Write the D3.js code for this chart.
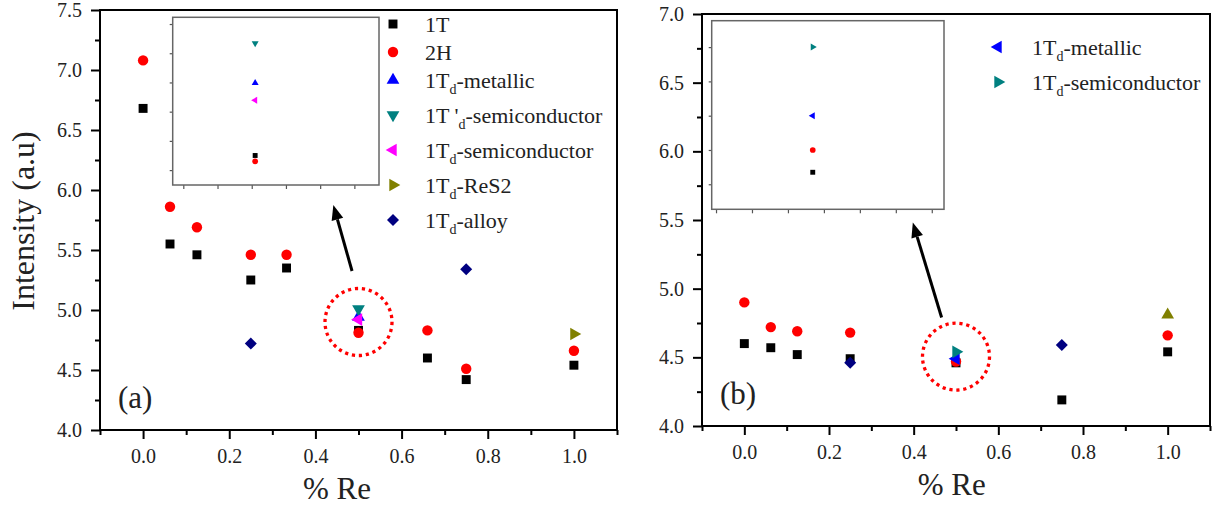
<!DOCTYPE html>
<html>
<head>
<meta charset="utf-8">
<script src="https://cdn.jsdelivr.net/npm/d3@7"></script>
<style>
body { margin: 0; background: #fff; }
svg { display: block; font-family: "Liberation Serif", "Times New Roman", serif; }
</style>
</head>
<body>
<svg id="chart" width="1212" height="513"></svg>
<script>
// ---- data ----
const xTicks = [0, 0.2, 0.4, 0.6, 0.8, 1.0];
const xMinor = [-0.1, 0.1, 0.3, 0.5, 0.7, 0.9, 1.1];
const aYTicks = [4.0, 4.5, 5.0, 5.5, 6.0, 6.5, 7.0, 7.5];
const aYMinor = [4.25, 4.75, 5.25, 5.75, 6.25, 6.75, 7.25];
const bYTicks = [4.0, 4.5, 5.0, 5.5, 6.0, 6.5, 7.0];
const bYMinor = [4.25, 4.75, 5.25, 5.75, 6.25, 6.75];

// panel (a)
const aRe = [0, 0.0625, 0.125, 0.25, 0.333, 0.5, 0.66, 0.75, 1.0];
const a1T = [6.68, 5.55, 5.46, 5.25, 5.35, 4.83, 4.60, 4.42, 4.54];
const a2H = [7.08, 5.86, 5.69, 5.46, 5.46, 4.81, 4.83, 4.51, 4.66];
const aMetRe = [0.5], aMet = [4.94];
const aSemiPRe = [0.5], aSemiP = [5.01];
const aSemiRe = [0.5], aSemi = [4.92];
const aReS2Re = [1.0], aReS2 = [4.80];
const aAlloyRe = [0.25, 0.75], aAlloy = [4.72, 5.34];

// panel (b)
const bRe1T = [0, 0.0625, 0.125, 0.25, 0.5, 0.75, 1.0];
const b1T = [4.60, 4.57, 4.52, 4.49, 4.46, 4.19, 4.54];
const bRe2H = [0, 0.0625, 0.125, 0.25, 0.5, 1.0];
const b2H = [4.90, 4.72, 4.69, 4.68, 4.47, 4.66];
const bAlloyRe = [0.25, 0.75], bAlloy = [4.46, 4.59];
const bReS2Re = [1.0], bReS2 = [4.81];
const bMetRe = [0.5], bMet = [4.49];
const bSemiRe = [0.5], bSemi = [4.54];

// insets (no labels, own units)
const insetAKeys = ['1T', '2H', 'met', 'semiP', 'semi'];
const insetAVals = [0.50, 0.30, 2.98, 4.34, 2.39];
const insetBKeys = ['1T', '2H', 'metL', 'semiR'];
const insetBVals = [0.35, 1.0, 2.0, 4.0];

// legends
const legendA = [
  {key: '1T', pre: '1T', sub: '', post: ''},
  {key: '2H', pre: '2H', sub: '', post: ''},
  {key: 'met', pre: '1T', sub: 'd', post: '-metallic'},
  {key: 'semiP', pre: "1T '", sub: 'd', post: '-semiconductor'},
  {key: 'semi', pre: '1T', sub: 'd', post: '-semiconductor'},
  {key: 'res2', pre: '1T', sub: 'd', post: '-ReS2'},
  {key: 'alloy', pre: '1T', sub: 'd', post: '-alloy'}
];
const legendB = [
  {key: 'metL', pre: '1T', sub: 'd', post: '-metallic'},
  {key: 'semiR', pre: '1T', sub: 'd', post: '-semiconductor'}
];

// ---- styles ----
const styles = {
  '1T':    {type: d3.symbolSquare,   rot: 0,   color: '#000000', size: 80},
  '2H':    {type: d3.symbolCircle,   rot: 0,   color: '#ff0000', size: 85},
  'met':   {type: d3.symbolTriangle, rot: 0,   color: '#0000ff', size: 70},
  'semiP': {type: d3.symbolTriangle, rot: 180, color: '#008080', size: 70},
  'semi':  {type: d3.symbolTriangle, rot: -90, color: '#ff00ff', size: 70},
  'res2':  {type: d3.symbolTriangle, rot: 90,  color: '#808000', size: 70},
  'res2u': {type: d3.symbolTriangle, rot: 0,   color: '#808000', size: 70},
  'alloy': {type: d3.symbolSquare,   rot: 45,  color: '#000080', size: 72},
  'metL':  {type: d3.symbolTriangle, rot: -90, color: '#0000ff', size: 70},
  'semiR': {type: d3.symbolTriangle, rot: 90,  color: '#008080', size: 70}
};

const svg = d3.select('#chart');
const fmt = d3.format('.1f');

function marker (g, key, cx, cy, scale) {
  const s = styles[key];
  g.append('path')
    .attr('d', d3.symbol().type(s.type).size(s.size * (scale || 1))())
    .attr('transform', 'translate(' + cx + ',' + cy + ') rotate(' + s.rot + ')')
    .attr('fill', s.color);
}

function drawPanel (cfg) {
  const g = svg.append('g');
  const x = d3.scaleLinear().domain([-0.1, 1.1]).range([cfg.left, cfg.right]);
  const y = d3.scaleLinear().domain([cfg.yTicks[0], cfg.yTicks[cfg.yTicks.length - 1]]).range([cfg.bottom, cfg.top]);

  // minor ticks
  g.append('g').attr('transform', 'translate(0,' + cfg.bottom + ')')
    .call(d3.axisBottom(x).tickValues(xMinor).tickSize(5).tickFormat(''))
    .call(a => a.select('.domain').remove());
  g.append('g').attr('transform', 'translate(' + cfg.left + ',0)')
    .call(d3.axisLeft(y).tickValues(cfg.yMinor).tickSize(5).tickFormat(''))
    .call(a => a.select('.domain').remove());

  // major ticks
  g.append('g').attr('transform', 'translate(0,' + cfg.bottom + ')')
    .call(d3.axisBottom(x).tickValues(xTicks).tickSize(9).tickPadding(10).tickFormat(fmt))
    .call(a => a.select('.domain').remove());
  g.append('g').attr('transform', 'translate(' + cfg.left + ',0)')
    .call(d3.axisLeft(y).tickValues(cfg.yTicks).tickSize(9).tickPadding(9).tickFormat(fmt))
    .call(a => a.select('.domain').remove());

  g.selectAll('.tick line').attr('stroke', '#000').attr('stroke-width', 2);
  g.selectAll('.tick text').attr('font-size', 20).attr('fill', '#222')
    .attr('font-family', '"Liberation Serif", serif');

  // frame
  g.append('rect')
    .attr('x', cfg.left).attr('y', cfg.top)
    .attr('width', cfg.right - cfg.left).attr('height', cfg.bottom - cfg.top)
    .attr('fill', 'none').attr('stroke', '#000').attr('stroke-width', 2);

  // x title
  g.append('text')
    .attr('x', x(cfg.xTitleAt)).attr('y', cfg.bottom + 69)
    .attr('text-anchor', 'middle').attr('font-size', 31).attr('fill', '#222')
    .text('% Re');

  // panel label
  g.append('text')
    .attr('x', cfg.left + 18).attr('y', cfg.bottom - 22)
    .attr('font-size', 31).attr('fill', '#222')
    .text(cfg.label);

  return {g, x, y};
}

function series (p, key, xs, ys) {
  xs.forEach((v, i) => marker(p.g, key, p.x(v), p.y(ys[i])));
}

function dottedCircle (p, cx, cy) {
  p.g.append('circle')
    .attr('cx', p.x(cx)).attr('cy', p.y(cy)).attr('r', 33.5)
    .attr('fill', 'none').attr('stroke', '#ff0000')
    .attr('stroke-width', 3.3).attr('stroke-dasharray', '3.2 3.8');
}

function arrow (p, x1, y1, x2, y2) {
  const ax1 = p.x(x1), ay1 = p.y(y1), ax2 = p.x(x2), ay2 = p.y(y2);
  const ang = Math.atan2(ay2 - ay1, ax2 - ax1);
  const len = 15, half = 6;
  const bx = ax2 - len * Math.cos(ang), by = ay2 - len * Math.sin(ang);
  p.g.append('line')
    .attr('x1', ax1).attr('y1', ay1).attr('x2', bx).attr('y2', by)
    .attr('stroke', '#000').attr('stroke-width', 3);
  const nx = -Math.sin(ang), ny = Math.cos(ang);
  p.g.append('path')
    .attr('d', 'M' + ax2 + ',' + ay2 + 'L' + (bx + nx * half) + ',' + (by + ny * half) +
      'L' + (bx - nx * half) + ',' + (by - ny * half) + 'Z')
    .attr('fill', '#000');
}

function drawInset (cfg, keys, vals) {
  const g = svg.append('g');
  const x = d3.scaleLinear().domain(cfg.xDomain).range([cfg.left, cfg.right]);
  const y = d3.scaleLinear().domain(cfg.yDomain).range([cfg.bottom, cfg.top]);
  g.append('g').attr('transform', 'translate(0,' + cfg.bottom + ')')
    .call(d3.axisBottom(x).tickValues(d3.range(cfg.xN)).tickSize(4).tickFormat(''))
    .call(a => a.select('.domain').remove());
  g.append('g').attr('transform', 'translate(' + cfg.left + ',0)')
    .call(d3.axisLeft(y).tickValues(d3.range(cfg.yN)).tickSize(3).tickFormat(''))
    .call(a => a.select('.domain').remove());
  g.selectAll('.tick line').attr('stroke', '#555').attr('stroke-width', 1.2);
  g.append('rect')
    .attr('x', cfg.left).attr('y', cfg.top)
    .attr('width', cfg.right - cfg.left).attr('height', cfg.bottom - cfg.top)
    .attr('fill', '#fff').attr('stroke', '#666').attr('stroke-width', 1.5);
  keys.forEach((k, i) => marker(g, k, x(cfg.at), y(vals[i]), 0.3));
}

function legend (items, mx, tx, y0) {
  const g = svg.append('g');
  let yy = y0;
  items.forEach(d => {
    marker(g, d.key, mx, yy);
    const t = g.append('text').attr('x', tx).attr('y', yy).attr('dy', '0.35em')
      .attr('font-size', 22).attr('fill', '#222');
    t.append('tspan').text(d.pre);
    if (d.sub) {
      t.append('tspan').attr('font-size', 14).attr('dy', 6).text(d.sub);
      t.append('tspan').attr('dy', -6).text(d.post);
    }
    yy += d.sub ? 35 : 28;
  });
}

// ---- panel (a) ----
const pa = drawPanel({left: 100, right: 617, top: 10, bottom: 430,
  yTicks: aYTicks, yMinor: aYMinor, xTitleAt: 0.45, label: '(a)'});
svg.append('text')
  .attr('transform', 'translate(34,221) rotate(-90)')
  .attr('text-anchor', 'middle').attr('font-size', 32).attr('fill', '#222')
  .text('Intensity (a.u)');

drawInset({left: 172.7, right: 379, top: 17.3, bottom: 185,
  xDomain: [-0.31, 5.72], yDomain: [-0.51, 5.23], xN: 6, yN: 6, at: 2.1},
  insetAKeys, insetAVals);

series(pa, '1T', aRe, a1T);
series(pa, '2H', aRe, a2H);
series(pa, 'met', aMetRe, aMet);
series(pa, 'semiP', aSemiPRe, aSemiP);
series(pa, 'semi', aSemiRe, aSemi);
series(pa, 'res2', aReS2Re, aReS2);
series(pa, 'alloy', aAlloyRe, aAlloy);
dottedCircle(pa, 0.5, 4.90);
arrow(pa, 0.485, 5.325, 0.4416, 5.875);
legend(legendA, 393, 425, 24);

// ---- panel (b) ----
const pb = drawPanel({left: 702, right: 1210, top: 14, bottom: 426,
  yTicks: bYTicks, yMinor: bYMinor, xTitleAt: 0.49, label: '(b)'});

drawInset({left: 711.7, right: 944, top: 20.7, bottom: 209.3,
  xDomain: [-0.12, 6.34], yDomain: [-0.73, 4.77], xN: 7, yN: 5, at: 2.69},
  insetBKeys, insetBVals);

series(pb, '1T', bRe1T, b1T);
series(pb, '2H', bRe2H, b2H);
series(pb, 'res2u', bReS2Re, bReS2);
series(pb, 'alloy', bAlloyRe, bAlloy);
series(pb, 'metL', bMetRe, bMet);
series(pb, 'semiR', bSemiRe, bSemi);
dottedCircle(pb, 0.5, 4.505);
arrow(pb, 0.466, 4.79, 0.398, 5.482);
legend(legendB, 998, 1032, 47);
</script>
</body>
</html>
